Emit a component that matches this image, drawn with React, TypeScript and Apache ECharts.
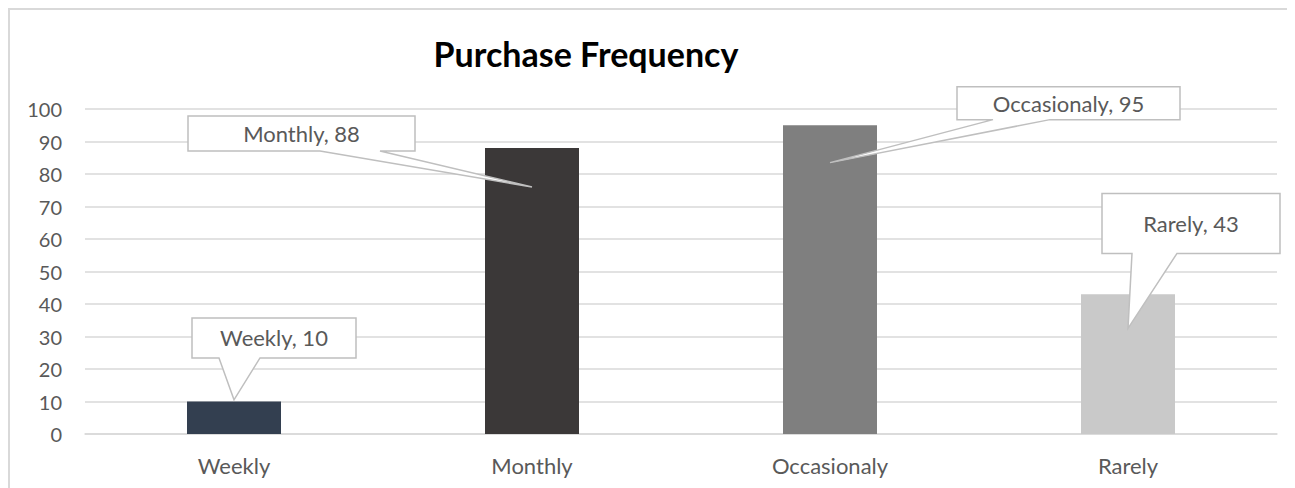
import React, { useEffect, useRef } from "react";
import * as echarts from "echarts";

const categories = ["Weekly", "Monthly", "Occasionaly", "Rarely"];
const values = [10, 88, 95, 43];
const barColors = ["#333f50", "#3b3838", "#7f7f7f", "#c9c9c9"];
// value at which each callout pointer touches its bar
const calloutTipValues = [10.5, 76, 83.5, 32.5];

const FONT = "Lato";
const TEXT_COLOR = "#595959";

// callout box placement relative to the pointer tip (pixels)
const calloutLayout = [
  { dx: -42, dy: -82, w: 164, h: 40, wl: -15, wr: 26 },
  { dx: -344, dy: -71, w: 227, h: 35, wl: -212, wr: -152 },
  { dx: 127, dy: -76, w: 223, h: 33, wl: 163, wr: 220 },
  { dx: -26, dy: -135, w: 178, h: 60, wl: 4, wr: 49 },
];

export default function App() {
  const ref = useRef<HTMLDivElement>(null);
  useEffect(() => {
    if (!ref.current) return;
    document.documentElement.style.overflow = "hidden";
    document.body.style.overflow = "hidden";
    const chart = echarts.init(ref.current, undefined, { renderer: "svg" });
    chart.setOption({
      animation: false,
      title: {
        text: "Purchase Frequency",
        left: 578,
        top: 28,
        textAlign: "center",
        padding: 0,
        textStyle: { fontFamily: FONT, fontWeight: "bold", fontSize: 34, color: "#000" },
      },
      grid: { left: 77, width: 1192, top: 101, bottom: 54, containLabel: false },
      xAxis: {
        type: "category",
        data: categories,
        axisLine: { show: true, lineStyle: { color: "#d9d9d9", width: 1.5 } },
        axisTick: { show: false },
        axisLabel: { color: TEXT_COLOR, fontFamily: FONT, fontSize: 22, margin: 20 },
      },
      yAxis: {
        type: "value",
        min: 0,
        max: 100,
        interval: 10,
        axisLine: { show: false },
        axisTick: { show: false },
        splitLine: { lineStyle: { color: "#d9d9d9", width: 1.5 } },
        axisLabel: { color: TEXT_COLOR, fontFamily: FONT, fontSize: 20, margin: 23 },
      },
      series: [
        {
          type: "bar",
          barWidth: 94,
          data: values.map((v, i) => ({ value: v, itemStyle: { color: barColors[i] } })),
          label: { show: false },
        },
      ],
    });

    const graphics: any[] = [
      {
        type: "polyline",
        silent: true,
        shape: { points: [[1, 700], [1, 1], [1400, 1]] },
        style: { fill: "none", stroke: "#d9d9d9", lineWidth: 2 },
      },
    ];
    categories.forEach((c, i) => {
      const tip = chart.convertToPixel({ xAxisIndex: 0, yAxisIndex: 0 }, [i, calloutTipValues[i]]) as number[];
      const L = calloutLayout[i];
      const x0 = tip[0] + L.dx;
      const y0 = tip[1] + L.dy;
      const x1 = x0 + L.w;
      const y1 = y0 + L.h;
      graphics.push({
        type: "polygon",
        silent: true,
        z: 100,
        shape: {
          points: [
            [x0, y0],
            [x1, y0],
            [x1, y1],
            [tip[0] + L.wr, y1],
            [tip[0], tip[1]],
            [tip[0] + L.wl, y1],
            [x0, y1],
          ],
        },
        style: { fill: "#fff", stroke: "#bfbfbf", lineWidth: 1.5 },
      });
      graphics.push({
        type: "text",
        silent: true,
        z: 101,
        x: (x0 + x1) / 2,
        y: (y0 + y1) / 2,
        style: {
          text: `${c}, ${values[i]}`,
          fill: TEXT_COLOR,
          font: `22px ${FONT}`,
          align: "center",
          verticalAlign: "middle",
        },
      });
    });
    chart.setOption({ graphic: graphics });
    return () => chart.dispose();
  }, []);
  return <div ref={ref} style={{ width: 1310, height: 480 }} />;
}
